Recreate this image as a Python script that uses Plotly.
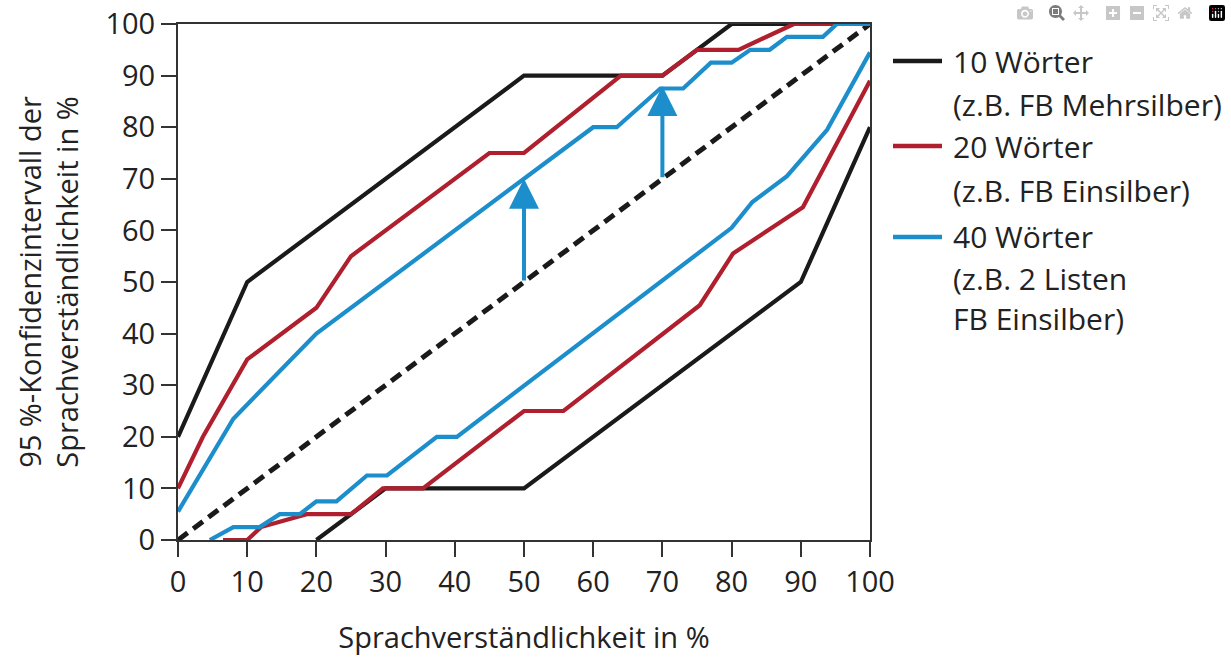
import plotly.graph_objects as go

# ---- data ----
x_tick_vals = [0, 10, 20, 30, 40, 50, 60, 70, 80, 90, 100]
y_tick_vals = [0, 10, 20, 30, 40, 50, 60, 70, 80, 90, 100]

# 10 Wörter (black)
x10_upper = [0, 10, 50, 70, 80, 100]
y10_upper = [20, 50, 90, 90, 100, 100]
x10_lower = [20, 30, 50, 90, 100]
y10_lower = [0, 10, 10, 50, 80]

# 20 Wörter (red)
x20_upper = [0, 3.6, 10, 20, 25, 45, 50, 64, 70, 75, 81, 89, 100]
y20_upper = [10, 20, 35, 45, 55, 75, 75, 90, 90, 95, 95, 100, 100]
x20_lower = [6.5, 10, 12, 18.6, 25, 29.6, 35.4, 50, 55.7, 75.4, 80.2, 90.3, 100]
y20_lower = [0, 0, 2.5, 5, 5, 10, 10, 25, 25, 45.5, 55.5, 64.5, 89]

# 40 Wörter (blue)
x40_upper = [0, 8, 20, 50, 60, 63.4, 69.7, 73, 77, 80, 82.7, 85.5, 88, 93.2, 95.2, 100]
y40_upper = [5.5, 23.5, 40, 70, 80, 80, 87.5, 87.5, 92.5, 92.5, 95, 95, 97.5, 97.5, 100, 100]
x40_lower = [4.6, 8, 11.8, 14.7, 17.6, 20, 22.9, 27.3, 30.2, 37.4, 40.3, 80, 83, 88, 93.8, 100]
y40_lower = [0, 2.5, 2.5, 5, 5, 7.5, 7.5, 12.5, 12.5, 20, 20, 60.5, 65.5, 70.5, 79.5, 94.5]

# identity line
x_diag = [0, 100]
y_diag = [0, 100]

# arrows (x, tail y, head y)
arrow_x = [50, 70]
arrow_tail_y = [50, 70]
arrow_head_y = [70, 88]

legend_lines = [
    ["10 Wörter", "(z.B. FB Mehrsilber)"],
    ["20 Wörter", "(z.B. FB Einsilber)"],
    ["40 Wörter", "(z.B. 2 Listen", "FB Einsilber)"],
]

BLACK = "#1a1a1a"
RED = "#b01f2d"
BLUE = "#1c8ecb"
LW = 4.2

fig = go.Figure()

series = [
    ("10 Wörter", BLACK, x10_upper, y10_upper, x10_lower, y10_lower),
    ("20 Wörter", RED, x20_upper, y20_upper, x20_lower, y20_lower),
    ("40 Wörter", BLUE, x40_upper, y40_upper, x40_lower, y40_lower),
]

fig.add_trace(go.Scatter(x=x_diag, y=y_diag, mode="lines", showlegend=False,
                         line=dict(color=BLACK, width=5, dash="12px,7px")))

for name, col, xu, yu, xl, yl in series:
    fig.add_trace(go.Scatter(x=xu, y=yu, mode="lines", name=name, showlegend=False,
                             line=dict(color=col, width=LW)))
    fig.add_trace(go.Scatter(x=xl, y=yl, mode="lines", name=name, showlegend=False,
                             line=dict(color=col, width=LW)))

for ax_, ty, hy in zip(arrow_x, arrow_tail_y, arrow_head_y):
    fig.add_annotation(x=ax_, y=hy, ax=ax_, ay=ty, xref="x", yref="y",
                       axref="x", ayref="y", text="", showarrow=True,
                       arrowhead=2, arrowsize=1.5, arrowwidth=4, arrowcolor=BLUE)

# manual legend (line samples + text rows), positions in page pixels -> paper
L, T, H, W = 178, 24, 516, 692
def px_x(p):
    return (p - L) / W
def px_y(p):
    return ((T + H) - p) / H

row_y = [[61, 105], [146, 190], [237, 278, 318]]
legend_cols = [BLACK, RED, BLUE]
for rows, ys, col in zip(legend_lines, row_y, legend_cols):
    fig.add_shape(type="line", xref="paper", yref="paper",
                  x0=px_x(893), x1=px_x(942), y0=px_y(ys[0]), y1=px_y(ys[0]),
                  line=dict(color=col, width=4.5))
    for txt, yy in zip(rows, ys):
        fig.add_annotation(x=px_x(951), y=px_y(yy), xref="paper", yref="paper",
                           text=txt, showarrow=False, xanchor="left", yanchor="middle",
                           font=dict(size=30, color="#222222"))

axis_common = dict(
    showgrid=False, zeroline=False, showline=True, linecolor="#333333", linewidth=2,
    mirror=True, ticks="outside", ticklen=15, tickwidth=1.5, tickcolor="#333333",
    tickfont=dict(size=29, color="#222222"), automargin=False,
)

fig.update_xaxes(range=[0, 100], tickvals=x_tick_vals, **axis_common,
                 title=dict(text="Sprachverständlichkeit in %",
                            font=dict(size=29, color="#222222"), standoff=29))
fig.update_yaxes(range=[0, 100], tickvals=y_tick_vals, **axis_common,
                 title=dict(text="95 %-Konfidenzintervall der<br>Sprachverständlichkeit in %",
                            font=dict(size=29, color="#222222"), standoff=18))

fig.update_layout(
    width=1231, height=659,
    margin=dict(l=178, r=361, t=24, b=119),
    paper_bgcolor="white", plot_bgcolor="white",
    font=dict(family="Open Sans", color="#222222"),
    showlegend=False,
)

fig.write_html("out.html", post_script="document.body.style.margin='0';")
